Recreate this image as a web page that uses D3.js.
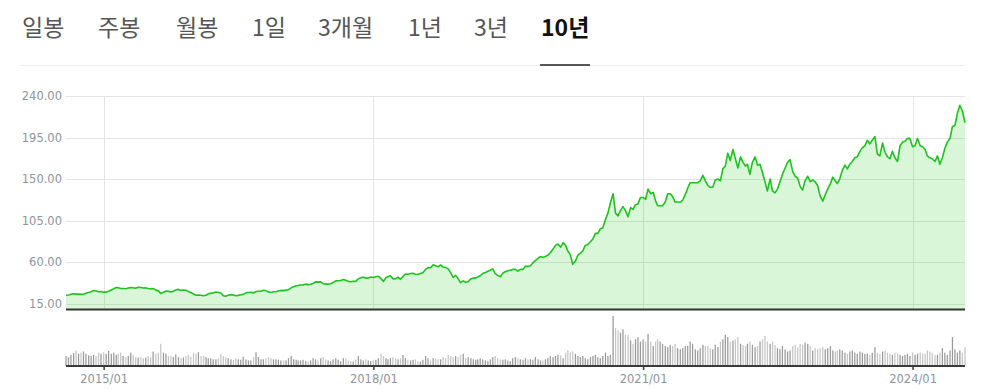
<!DOCTYPE html>
<html><head><meta charset="utf-8">
<script src="https://cdn.jsdelivr.net/npm/d3@7"></script>
<style>
html,body{margin:0;padding:0;background:#fff;}
svg{display:block;}
</style></head>
<body>
<svg id="chart" width="986" height="390"></svg>
<script>
// ---------- DATA ----------
const tabLabels = ["일봉","주봉","월봉","1일","3개월","1년","3년","10년"];
const activeTab = "10년";
const yTickValues = [15, 60, 105, 150, 195, 240];
const xTickLabels = ["2015/01","2018/01","2021/01","2024/01"];
const startMonth = "2014-08";      // first period
const periodDays = [1, 11, 21];    // three sampling days per month
const endDate = "2024-08-01";      // last sample

const prices = [
// 2014 Aug-Dec
24.0,24.2,25.0, 25.6,25.2,25.3, 24.9,25.0,26.2, 27.0,27.8,29.1, 28.6,27.8,28.0,
// 2015
27.3,27.3,28.2, 29.7,31.0,32.4, 32.1,31.3,31.3, 31.0,31.8,32.2, 32.0,31.5,32.6, 32.4,31.8,31.9,
31.3,30.8,31.2, 29.5,28.7,25.8, 27.3,28.4,28.3, 27.4,28.3,29.7, 30.3,29.2,29.7, 29.3,28.1,27.0,
// 2016
25.3,24.0,24.3, 24.0,23.5,24.0, 25.5,26.0,26.5, 27.5,27.0,26.4, 23.5,23.0,24.0, 24.6,24.2,23.4,
23.8,24.5,24.9, 26.5,27.0,27.2, 26.5,28.0,28.3, 28.3,29.3,29.0, 27.5,27.0,27.7, 27.8,28.5,29.2,
// 2017
29.0,29.5,30.0, 32.0,33.2,34.2, 34.5,35.0,35.0, 36.0,35.5,35.8, 36.7,38.5,38.2, 38.5,36.5,36.0,
36.0,36.5,37.7, 39.5,39.6,40.0, 41.0,40.2,39.0, 38.6,39.2,39.0, 41.7,43.0,43.6, 42.5,42.5,43.7,
// 2018
43.1,44.0,44.5, 41.9,39.0,43.0, 44.0,45.0,42.0, 41.7,43.5,41.2, 44.2,47.0,46.7, 47.5,47.8,46.8,
46.5,47.5,48.3, 52.0,54.0,53.8, 57.0,56.0,54.8, 56.8,54.5,54.2, 52.5,48.5,43.2, 45.5,42.0,37.6,
// 2019
39.5,38.0,38.5, 41.7,42.5,42.8, 43.8,45.0,47.5, 48.5,50.0,51.0, 52.5,47.5,45.5, 44.0,48.0,49.5,
50.5,51.0,52.0, 52.0,50.0,52.0, 52.0,55.5,55.0, 56.0,59.0,61.5, 64.0,66.0,65.0, 66.0,67.5,70.0,
// 2020
74.0,78.0,79.5, 76.0,81.0,78.0, 72.0,68.0,57.5, 61.0,67.5,69.5, 72.0,78.0,79.0, 82.0,85.0,91.0,
91.0,96.0,97.0, 106.0,113.0,124.0, 134.0,113.0,110.0, 116.0,120.0,116.0, 109.0,119.0,117.0, 122.0,123.0,130.0,
// 2021
130.0,128.0,139.0, 134.0,135.5,126.0, 121.0,121.0,121.0, 125.0,134.0,134.0, 131.0,125.0,125.0, 125.0,127.0,133.0,
140.0,146.0,146.0, 146.0,146.0,148.0, 154.0,148.0,143.0, 141.0,141.0,149.0, 150.0,148.0,161.0, 164.0,178.0,170.0,
// 2022
182.0,172.0,162.0, 174.0,168.0,164.0, 166.0,155.0,168.0, 174.0,165.0,166.0, 157.0,147.0,137.0, 150.0,137.0,135.0,
139.0,147.0,155.0, 162.0,168.0,171.0, 158.0,153.0,151.0, 142.0,138.0,148.0, 153.0,147.0,149.0, 147.0,143.0,132.0,
// 2023
126.0,133.0,139.0, 145.0,152.0,148.0, 145.0,150.0,159.0, 165.0,161.0,166.0, 169.0,173.0,174.0, 180.0,184.0,186.0,
192.0,188.0,192.0, 196.0,177.0,175.0, 189.0,179.0,174.0, 172.0,180.0,173.0, 169.0,186.0,190.0, 191.0,194.0,194.0,
// 2024 Jan-Jul + Aug 1
185.0,186.0,194.0, 186.0,185.0,182.0, 175.0,173.0,172.0, 169.0,175.0,166.0, 173.0,183.0,190.0, 194.0,207.0,208.0,
221.0,230.0,224.0, 211.0
];

const volumes = [
// 2014 Aug-Dec
45,40,50, 58,70,55, 60,65,55, 48,45,50, 45,60,55,
// 2015
62,55,68, 55,60,50, 55,60,45, 40,45,60, 50,40,38, 40,35,38,
45,40,65, 55,60,100, 60,55,45, 45,40,52, 40,35,38, 45,50,42,
// 2016
60,55,62, 45,45,40, 35,35,30, 30,35,55, 45,40,35, 30,28,35,
30,28,42, 30,25,25, 40,62,40, 30,30,35, 40,35,30, 30,28,25,
// 2017
25,25,35, 45,30,28, 25,25,28, 22,20,25, 35,30,25, 35,40,30,
25,22,30, 35,28,22, 35,35,25, 22,20,30, 45,30,25, 30,25,22,
// 2018
25,28,35, 55,45,35, 30,35,40, 35,30,35, 50,35,28, 25,28,30,
22,20,28, 45,35,25, 35,35,30, 30,40,35, 50,45,40, 45,40,50,
// 2019
55,35,40, 35,30,28, 30,35,30, 25,22,30, 40,45,35, 30,28,30,
25,22,35, 40,35,30, 28,35,30, 30,28,40, 30,25,25, 30,35,45,
// 2020
40,45,50, 48,35,60, 72,62,66, 55,45,40, 45,35,30, 40,45,50,
40,35,45, 60,45,50, 225,170,160, 150,165,140, 140,115,100, 120,130,110,
// 2021
120,110,145, 110,90,110, 120,110,100, 90,85,95, 90,100,80, 75,80,90,
90,110,100, 75,70,80, 95,90,90, 80,75,95, 85,110,120, 140,130,110,
// 2022
115,120,130, 100,95,90, 100,110,95, 85,90,110, 120,135,110, 100,110,95,
80,75,90, 75,65,70, 90,95,85, 100,95,105, 100,90,70, 80,75,80,
// 2023
85,75,80, 90,70,65, 70,75,70, 60,55,65, 70,60,55, 65,60,55,
55,50,60, 85,60,55, 65,70,60, 55,50,60, 55,50,45, 50,55,45,
// 2024 Jan-Jul + Aug 1
60,50,55, 60,55,55, 70,65,60, 50,50,60, 80,60,50, 70,130,75,
60,70,60, 85
];

// ---------- DATES (one per sample) ----------
const parseMonth = d3.timeParse("%Y-%m");
const parseDay = d3.timeParse("%Y-%m-%d");
const lastDate = parseDay(endDate);
const dates = [];
d3.timeMonth.range(parseMonth(startMonth), lastDate).forEach(m => {
  periodDays.forEach(dd => dates.push(new Date(m.getFullYear(), m.getMonth(), dd)));
});
dates.push(lastDate);
const data = dates.map((d, i) => ({date: d, price: prices[i], vol: volumes[i], prev: i ? prices[i-1] : prices[i]}));
const xTickDates = xTickLabels.map(s => d3.timeParse("%Y/%m")(s));

// ---------- LAYOUT ----------
const svg = d3.select("#chart");
const L = 66, R = 965;
const priceTop = 96, priceBottom = 309.5;
const volBase = 366, volTop = 316;

const x = d3.scaleTime().domain([parseMonth(startMonth), lastDate]).range([L, R]);
const y = d3.scaleLinear().domain([8.5, 240]).range([priceBottom, priceTop]);
const yv = d3.scaleLinear().domain([0, 225]).range([volBase, volTop]);

// ---------- TABS ----------
const tabX = [22, 98, 176, 252, 318, 408, 474, 541];
const tabs = svg.append("g");
tabs.selectAll("text").data(tabLabels).join("text")
  .attr("x", (d, i) => tabX[i]).attr("y", 36)
  .attr("font-family", "'Noto Sans CJK KR','Noto Sans',sans-serif")
  .attr("font-size", 23)
  .attr("font-weight", d => d === activeTab ? 700 : 400)
  .attr("fill", d => d === activeTab ? "#111" : "#555")
  .text(d => d);
svg.append("line").attr("x1", 20).attr("x2", R).attr("y1", 65.5).attr("y2", 65.5)
  .attr("stroke", "#eeeeee").attr("stroke-width", 1);
svg.append("line").attr("x1", 540).attr("x2", 590).attr("y1", 65).attr("y2", 65)
  .attr("stroke", "#222").attr("stroke-width", 1.5);

// ---------- GRID ----------
const grid = svg.append("g");
grid.selectAll("line.h").data(yTickValues).join("line").attr("class", "h")
  .attr("x1", L).attr("x2", R)
  .attr("y1", d => Math.round(y(d)) + 0.5).attr("y2", d => Math.round(y(d)) + 0.5)
  .attr("stroke", "#e4e4e4");
grid.selectAll("line.v").data(xTickDates).join("line").attr("class", "v")
  .attr("x1", d => Math.round(x(d)) + 0.5).attr("x2", d => Math.round(x(d)) + 0.5)
  .attr("y1", priceTop).attr("y2", priceBottom)
  .attr("stroke", "#e4e4e4");

// ---------- PRICE AREA + LINE ----------
const area = d3.area().x(d => x(d.date)).y0(priceBottom).y1(d => y(d.price));
const line = d3.line().x(d => x(d.date)).y(d => y(d.price));
svg.append("path").datum(data).attr("d", area).attr("fill", "rgba(30,200,30,0.17)");
svg.append("path").datum(data).attr("d", line).attr("fill", "none")
  .attr("stroke", "#1cc41c").attr("stroke-width", 1.6).attr("stroke-linejoin", "round");

svg.append("line").attr("x1", L).attr("x2", R).attr("y1", priceBottom).attr("y2", priceBottom)
  .attr("stroke", "#333").attr("stroke-width", 2);

// ---------- Y AXIS ----------
const yAxis = d3.axisLeft(y).tickValues(yTickValues).tickSize(0).tickPadding(4)
  .tickFormat(d => d.toFixed(2));
const gy = svg.append("g").attr("transform", `translate(${L},0)`).call(yAxis);
gy.select(".domain").remove();
gy.selectAll("text").attr("font-family", "'DejaVu Sans',Verdana,sans-serif")
  .attr("font-size", 11.5).attr("fill", "#8b95a1");

// ---------- VOLUME ----------
svg.append("g").selectAll("rect").data(data).join("rect")
  .attr("x", d => x(d.date) - 0.6)
  .attr("width", 1.25)
  .attr("y", d => yv(d.vol))
  .attr("height", d => volBase - yv(d.vol))
  .attr("fill", d => d.price >= d.prev ? "#999999" : "#c6c6c6");

// ---------- X AXIS ----------
const xAxis = d3.axisBottom(x).tickValues(xTickDates).tickSize(4).tickPadding(5)
  .tickFormat((d, i) => xTickLabels[i]);
const gx = svg.append("g").attr("transform", `translate(0,${volBase})`).call(xAxis);
gx.select(".domain").attr("d", `M${L},0H${R}`).attr("stroke", "#3a3a3a").attr("stroke-width", 2);
gx.selectAll(".tick line").attr("stroke", "#3a3a3a").attr("stroke-width", 1.5);
gx.selectAll("text").attr("font-family", "'DejaVu Sans',Verdana,sans-serif")
  .attr("font-size", 11.5).attr("fill", "#8b95a1");
</script>
</body></html>
